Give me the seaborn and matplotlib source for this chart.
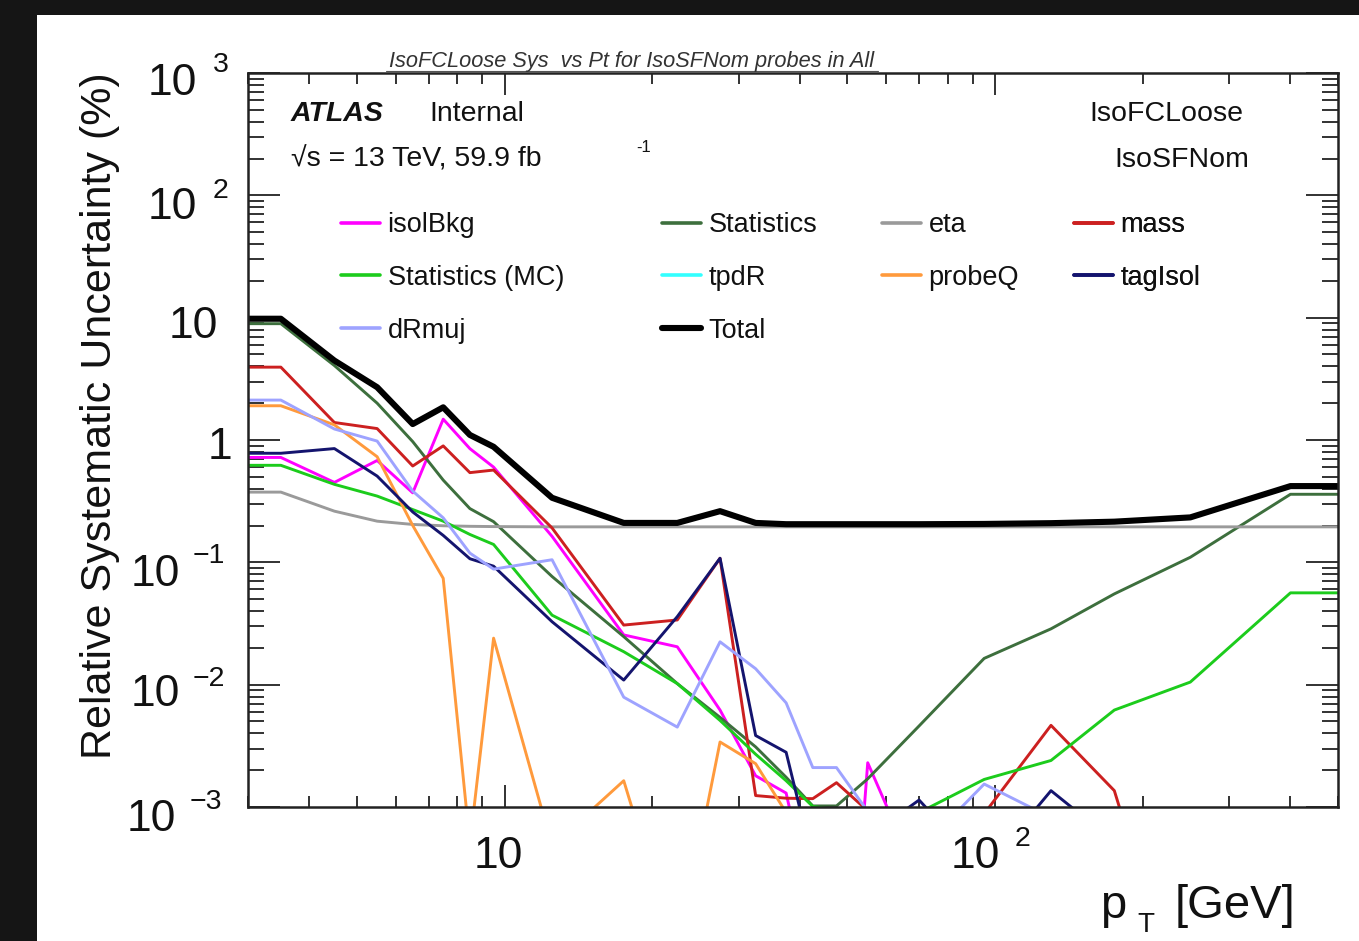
import numpy as np
import pandas as pd
import matplotlib
matplotlib.use("Agg")
import matplotlib.pyplot as plt
import seaborn as sns
from matplotlib.ticker import LogLocator, NullFormatter, FixedLocator
from matplotlib.patches import Rectangle
from matplotlib.lines import Line2D

# ---------------------------------------------------------------- data
# pT bin edges [GeV]; lines go through bin centres, extended flat to the edges
pt_edges = [3, 4, 5, 6, 7, 8, 9, 10, 15, 20, 25, 30, 35, 40, 45, 50, 60, 80,
            110, 150, 200, 300, 500]

isolBkg = [0.72, 0.45, 0.68, 0.37, 1.48, 0.85, 0.60, 0.163, 0.0255, 0.0204,
           0.0062, 0.0018, 0.0013, 1.4e-4, 1e-6, 0.0023, 2.5e-4, 1e-5, 1e-5,
           1e-5, 1e-5, 1e-5]
statistics = [8.93, 4.06, 2.0, 0.97, 0.47, 0.275, 0.215, 0.0766, 0.0247,
              0.0102, 0.0054, 0.0031, 0.00175, 0.00102, 0.00102, 0.0017,
              0.0046, 0.0164, 0.0286, 0.0552, 0.11, 0.36]
eta = [0.375, 0.262, 0.217, 0.204, 0.199, 0.197, 0.196, 0.195, 0.195, 0.195,
       0.195, 0.195, 0.195, 0.195, 0.195, 0.195, 0.195, 0.195, 0.195, 0.195,
       0.195, 0.195]
mass = [3.94, 1.39, 1.24, 0.613, 0.895, 0.541, 0.568, 0.191, 0.0307, 0.0338,
        0.108, 0.00124, 0.00118, 0.00117, 0.00158, 0.00093, 0.0006, 0.00088,
        0.00465, 0.00136, 1.3e-5, 1e-5]
statistics_mc = [0.621, 0.434, 0.348, 0.27, 0.217, 0.169, 0.14, 0.037, 0.0186,
                 0.0102, 0.0051, 0.0027, 0.00164, 0.00101, 0.00095, 0.0009,
                 0.0009, 0.00168, 0.0024, 0.0062, 0.0105, 0.0563]
tpdR = [1e-5, 1e-5, 1e-5, 1e-5, 1e-5, 1e-5, 1e-5, 1e-5, 1e-5, 1e-5, 1e-5,
        1e-5, 1e-5, 1e-5, 1e-5, 1e-5, 1e-5, 1e-5, 1e-5, 1e-5, 1e-5, 1e-5]
probeQ = [1.905, 1.33, 0.73, 0.2, 0.074, 0.0005, 0.024, 0.00048, 0.00164,
          6e-5, 0.0034, 0.00226, 0.0009, 1e-5, 1e-5, 1e-5, 1e-5, 1e-5, 1e-5,
          1e-5, 1e-5, 1e-5]
tagIsol = [0.779, 0.851, 0.507, 0.258, 0.166, 0.107, 0.093, 0.0327, 0.0109,
           0.036, 0.108, 0.00384, 0.0028, 0.00036, 0.0003, 0.00057, 0.00114,
           0.0003, 0.00136, 0.00052, 1e-5, 1e-5]
dRmuj = [2.12, 1.23, 0.98, 0.382, 0.231, 0.119, 0.088, 0.105, 0.0079, 0.0045,
         0.0224, 0.0135, 0.0071, 0.0021, 0.0021, 0.00092, 0.00044, 0.00154,
         0.00082, 0.0005, 0.0005, 0.0005]
total = [9.8, 4.46, 2.70, 1.35, 1.85, 1.1, 0.88, 0.337, 0.21, 0.21, 0.262,
         0.21, 0.205, 0.205, 0.205, 0.205, 0.205, 0.206, 0.209, 0.215, 0.233,
         0.42]

sources = {
    "isolBkg": isolBkg, "Statistics": statistics, "eta": eta, "mass": mass,
    "Statistics (MC)": statistics_mc, "tpdR": tpdR, "probeQ": probeQ,
    "tagIsol": tagIsol, "dRmuj": dRmuj,
}
colors = {
    "isolBkg": "#ff00ff", "Statistics": "#3d6f3d", "eta": "#9a9a9a",
    "mass": "#cc2020", "Statistics (MC)": "#1ccc1c", "tpdR": "#33ffff",
    "probeQ": "#ff9a3c", "tagIsol": "#14146e", "dRmuj": "#9ea3ff",
    "Total": "#000000",
}

# ---------------------------------------------------------------- frame
W, H = 1359, 941
sns.set_style("ticks")
plt.rcParams["font.family"] = ["Liberation Sans", "DejaVu Sans"]
plt.rcParams["text.color"] = "#111111"


def fx(px):
    return px / W


def fy(py):
    return 1 - py / H


fig = plt.figure(figsize=(W / 100, H / 100), dpi=100, facecolor="#151515")
fig.patches.append(Rectangle((fx(37), 0), 1 - fx(37), fy(15),
                             transform=fig.transFigure, facecolor="white",
                             edgecolor="none", zorder=-5))
ax = fig.add_axes([fx(248), fy(807), fx(1338) - fx(248), fy(73) - fy(807)])
ax.set_xscale("log")
ax.set_yscale("log")

# long-form table: bin centres plus flat extension to the outer edges
centres = [(lo + hi) / 2 for lo, hi in zip(pt_edges[:-1], pt_edges[1:])]
x_line = [pt_edges[0]] + centres + [pt_edges[-1]]
rows = []
for name, vals in list(sources.items()) + [("Total", total)]:
    y_line = [vals[0]] + list(vals) + [vals[-1]]
    for i, (xv, yv) in enumerate(zip(x_line, y_line)):
        rows.append({"pt": xv, "unc": yv, "source": name, "order": i})
df = pd.DataFrame(rows)

sys_df = df[df["source"] != "Total"]
sns.lineplot(data=sys_df, x="pt", y="unc", hue="source",
             hue_order=list(sources.keys()), palette=colors,
             estimator=None, sort=False, units="source", legend=False,
             linewidth=2.1, ax=ax)
sns.lineplot(data=df[df["source"] == "Total"], x="pt", y="unc",
             color=colors["Total"], estimator=None, sort=False,
             linewidth=4.4, ax=ax)

ax.set_xlim(3, 500)
ax.set_ylim(1e-3, 1e3)
ax.set_xlabel("")
ax.set_ylabel("")

# ROOT-like inward ticks on all four sides
ax.xaxis.set_major_locator(FixedLocator([10, 100]))
ax.xaxis.set_minor_locator(LogLocator(base=10, subs=np.arange(2, 10), numticks=50))
ax.yaxis.set_major_locator(FixedLocator([1e-3, 1e-2, 1e-1, 1, 10, 100, 1000]))
ax.yaxis.set_minor_locator(LogLocator(base=10, subs=np.arange(2, 10), numticks=50))
for axis in (ax.xaxis, ax.yaxis):
    axis.set_major_formatter(NullFormatter())
    axis.set_minor_formatter(NullFormatter())
ax.tick_params(which="both", direction="in", top=True, right=True,
               color="#222222", width=1.3)
ax.tick_params(axis="x", which="major", length=16)
ax.tick_params(axis="x", which="minor", length=8)
ax.tick_params(axis="y", which="major", length=23)
ax.tick_params(axis="y", which="minor", length=11.5)
for sp in ax.spines.values():
    sp.set_linewidth(1.8)
    sp.set_color("#222222")


def put(px, py, s, size, ha="left", va="baseline", **kw):
    fig.text(fx(px), fy(py), s, fontsize=size, ha=ha, va=va, **kw)


# y tick labels (10^n in ROOT style)
TS, SS = 32, 20.5
put(197, 95, "10", TS, ha="right")
put(213, 72, "3", SS)
put(197, 219, "10", TS, ha="right")
put(213, 198, "2", SS)
put(218, 338, "10", TS, ha="right")
put(232, 459, "1", TS, ha="right")
put(180, 586, "10", TS, ha="right")
put(193, 563, "\u22121", SS)
put(180, 706, "10", TS, ha="right")
put(193, 686, "\u22122", SS)
put(176, 831, "10", TS, ha="right")
put(190, 809, "\u22123", SS)

# x tick labels
put(498, 868, "10", TS, ha="center")
put(1000, 868, "10", TS, ha="right")
put(1015, 846, "2", SS)

# axis titles
put(100, 416, "Relative Systematic Uncertainty (%)", 31, ha="center",
    va="center", rotation=90)
put(1100, 918, "p", 34)
put(1137, 932, "T", 20)
put(1175, 918, "[GeV]", 34)

# plot title with its underline
put(632, 67, "IsoFCLoose Sys  vs Pt for IsoSFNom probes in All", 15.7,
    ha="center", style="italic", color="#333333")
fig.add_artist(Line2D([fx(386), fx(878)], [fy(70.5), fy(70.5)],
                      transform=fig.transFigure, color="#555555", lw=0.8))

# ATLAS label and selection text
put(291, 121, "ATLAS", 20.5, weight="bold", style="italic")
put(429, 121, "Internal", 20.5)
put(291, 167, "\u221as = 13 TeV, 59.9 fb", 20.5)
put(636, 152, "-1", 12)
put(1243, 121, "IsoFCLoose", 20.5, ha="right")
put(1249, 167, "IsoSFNom", 20.5, ha="right")

# legend: four columns laid out row by row
columns = [
    (341, ["isolBkg", "Statistics (MC)", "dRmuj"]),
    (662, ["Statistics", "tpdR", "Total"]),
    (882, ["eta", "probeQ"]),
    (1074, ["mass", "tagIsol"]),
]
for x0, names in columns:
    handles = [Line2D([], [], color=colors[n],
                      lw=4.4 if n == "Total" else 2.6) for n in names]
    leg = ax.legend(handles, names, loc="upper left",
                    bbox_to_anchor=(fx(x0), fy(212)),
                    bbox_transform=fig.transFigure, frameon=False,
                    fontsize=19.5, handlelength=1.45, handletextpad=0.27,
                    labelspacing=0.99, borderpad=0, borderaxespad=0)
    ax.add_artist(leg)

fig.savefig("out.png", dpi=100, facecolor=fig.get_facecolor())
